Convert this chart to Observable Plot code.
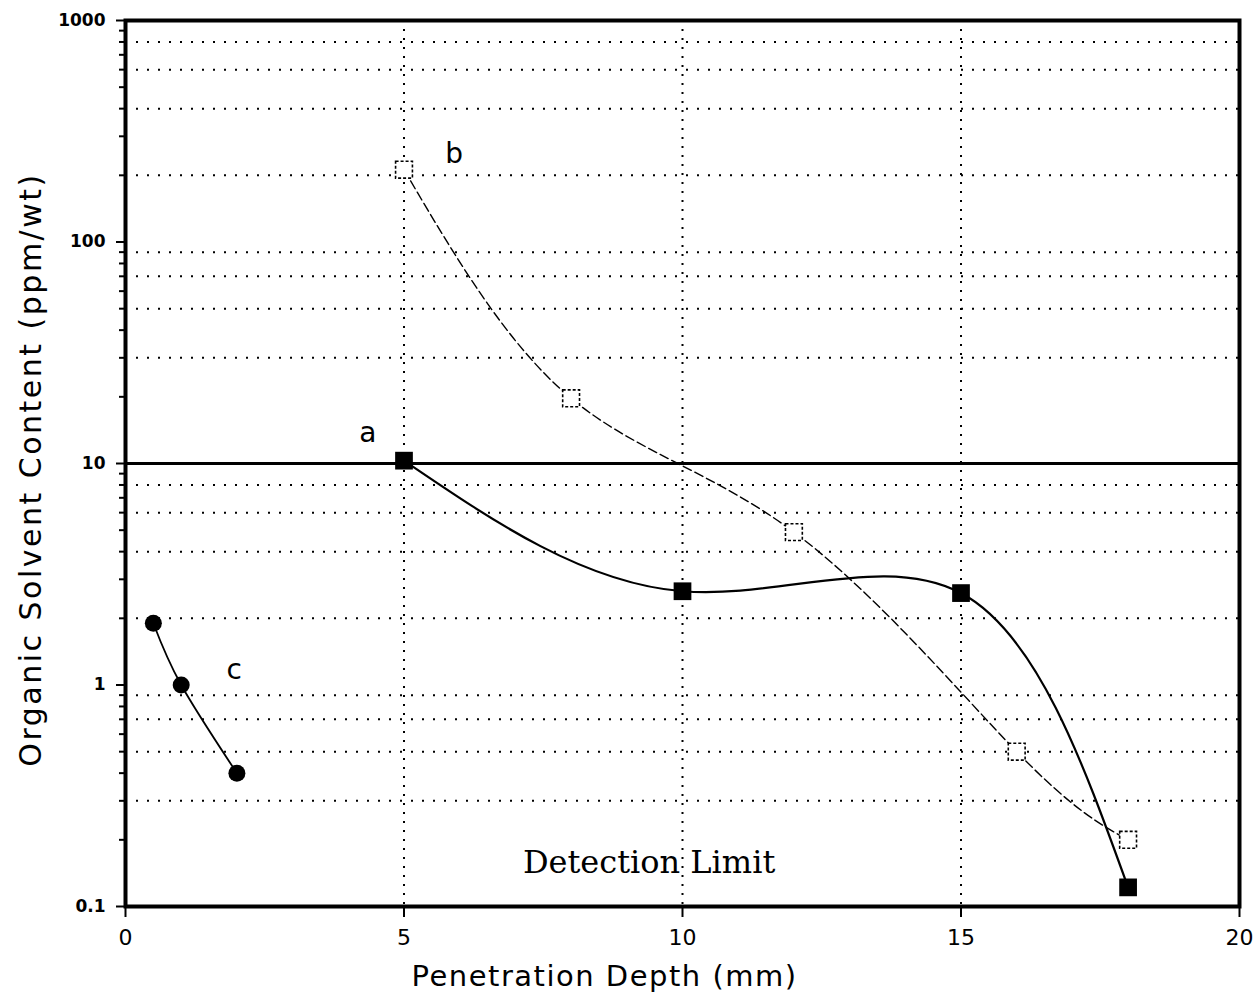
<!DOCTYPE html>
<html>
<head>
<meta charset="utf-8">
<script src="https://cdn.jsdelivr.net/npm/d3@7"></script>
<script src="https://cdn.jsdelivr.net/npm/@observablehq/plot@0.6"></script>
<style>
  html, body { margin: 0; padding: 0; background: #fff; }
  #chart svg { display: block; }
</style>
</head>
<body>
<div id="chart"></div>
<script>
// ---- data ----
const xTicks = [0, 5, 10, 15, 20];
const yMajor = [0.1, 1, 10, 100, 1000];
const yMinor = [0.2,0.3,0.4,0.5,0.6,0.7,0.8,0.9, 2,3,4,5,6,7,8,9, 20,30,40,50,60,70,80,90, 200,300,400,500,600,700,800,900];
const yGrid = [0.3, 0.5, 0.7, 0.9, 2, 4, 6, 8, 30, 50, 70, 90, 200, 400, 600, 800];
const xGrid = [5, 10, 15];
const limitValue = [10];

const depthA = [5, 10, 15, 18];
const contentA = [10.3, 2.65, 2.6, 0.122];
const depthB = [5, 8, 12, 16, 18];
const contentB = [212, 19.7, 4.9, 0.5, 0.2];
const depthC = [0.5, 1, 2];
const contentC = [1.9, 1.0, 0.4];

const labelText = ["a", "b", "c"];
const labelX = [4.35, 5.9, 1.95];
const labelY = [13.7, 250, 1.17];
const noteText = ["Detection Limit"];
const noteX = [9.4];
const noteY = [0.158];

const xTitle = "Penetration Depth (mm)";
const yTitle = "Organic Solvent Content (ppm/wt)";

// ---- tables ----
const A = depthA.map((d, i) => ({x: d, y: contentA[i]}));
const B = depthB.map((d, i) => ({x: d, y: contentB[i]}));
const C = depthC.map((d, i) => ({x: d, y: contentC[i]}));
const labels = labelText.map((t, i) => ({x: labelX[i], y: labelY[i], t}));
const notes = noteText.map((t, i) => ({x: noteX[i], y: noteY[i], t}));

const sans = "'DejaVu Sans', sans-serif";

const chart = Plot.plot({
  width: 1253,
  height: 1004,
  marginLeft: 125,
  marginRight: 14,
  marginTop: 20,
  marginBottom: 98,
  style: {fontFamily: sans, background: "#fff", color: "#000"},
  x: {domain: [0, 20]},
  y: {type: "log", domain: [0.1, 1000]},
  marks: [
    // dotted grid
    Plot.ruleY(yGrid, {stroke: "#000", strokeWidth: 2, strokeDasharray: "2,9"}),
    Plot.ruleX(xGrid, {stroke: "#000", strokeWidth: 2, strokeDasharray: "2,7"}),
    // solid reference line
    Plot.ruleY(limitValue, {stroke: "#000", strokeWidth: 3}),
    // axes
    Plot.axisY({ticks: yMinor, tickSize: 6, tickFormat: () => "", label: null, strokeWidth: 2}),
    Plot.axisY({ticks: yMajor, tickSize: 9, tickPadding: 11, fontSize: 17, fontWeight: "bold",
      tickFormat: d => d === 0.1 ? "0.1" : String(d), label: null, strokeWidth: 2}),
    Plot.axisX({ticks: xTicks, tickSize: 11, tickPadding: 12, fontSize: 22, label: null, strokeWidth: 2}),
    Plot.frame({stroke: "#000", strokeWidth: 4}),
    // series b (dashed, open squares)
    Plot.line(B, {x: "x", y: "y", curve: "natural", stroke: "#000", strokeWidth: 1.4, strokeDasharray: "9,4"}),
    Plot.dot(B, {x: "x", y: "y", symbol: "square", r: 9.5, fill: "#fff", stroke: "#000", strokeWidth: 1.6, strokeDasharray: "3,2"}),
    // series a (solid, filled squares)
    Plot.line(A, {x: "x", y: "y", curve: "natural", stroke: "#000", strokeWidth: 2.2}),
    Plot.dot(A, {x: "x", y: "y", symbol: "square", r: 10, fill: "#000", stroke: "none"}),
    // series c (solid, filled circles)
    Plot.line(C, {x: "x", y: "y", curve: "natural", stroke: "#000", strokeWidth: 1.8}),
    Plot.dot(C, {x: "x", y: "y", r: 8.5, fill: "#000", stroke: "none"}),
    // annotations
    Plot.text(labels, {x: "x", y: "y", text: "t", fontSize: 28, fill: "#000"}),
    Plot.text(notes, {x: "x", y: "y", text: "t", fontSize: 32, fill: "#000", fontFamily: "'DejaVu Serif', serif"}),
    // axis titles
    Plot.text([xTitle], {x: [8.6], frameAnchor: "bottom", dy: 79, fontSize: 29, fill: "#000",
      style: "letter-spacing:1.5px"}),
    Plot.text([yTitle], {frameAnchor: "left", textAnchor: "middle", dx: -94, dy: 6, rotate: -90,
      fontSize: 30, fill: "#000"})
  ]
});
// widen title letter spacing to match reference
d3.select(chart).selectAll("text").filter(function() { return this.textContent === xTitle; })
  .attr("letter-spacing", "1.5px");
d3.select(chart).selectAll("text").filter(function() { return this.textContent === yTitle; })
  .attr("letter-spacing", "2.5px");
document.getElementById("chart").appendChild(chart);
</script>
</body>
</html>
